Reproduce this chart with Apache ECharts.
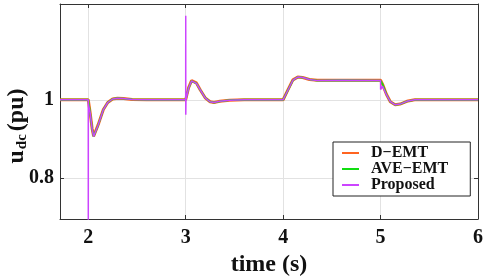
<!DOCTYPE html>
<html>
<head>
<meta charset="utf-8">
<script src="https://cdn.jsdelivr.net/npm/echarts@6/dist/echarts.min.js"></script>
<style>
  html, body { margin: 0; padding: 0; background: #fff; }
  #chart { width: 484px; height: 278px; }
</style>
</head>
<body>
<div id="chart"></div>
<script>
// time (s) and u_dc (pu)
var timeProposed = [1.71, 2.0, 2.0004, 2.0008, 2.02, 2.04, 2.055, 2.07, 2.1, 2.155, 2.2, 2.25, 2.3, 2.36, 2.45, 2.6, 3.0, 3.0004, 3.0008, 3.003, 3.03, 3.06, 3.08, 3.11, 3.15, 3.2, 3.25, 3.29, 3.35, 3.45, 3.6, 4.0, 4.05, 4.1, 4.15, 4.2, 4.27, 4.35, 4.6, 5.0, 5.0004, 5.02, 5.06, 5.1, 5.15, 5.2, 5.27, 5.35, 5.5, 6.0];
var udcProposed = [1.0, 1.0, 0.6, 0.99, 0.965, 0.925, 0.906, 0.909, 0.934, 0.975, 0.993, 1.002, 1.004, 1.003, 1.001, 1.0, 1.0, 1.215, 0.962, 1.0, 1.03, 1.048, 1.05, 1.042, 1.025, 1.005, 0.995, 0.993, 0.996, 0.999, 1.0, 1.0, 1.025, 1.05, 1.058, 1.057, 1.052, 1.049, 1.05, 1.049, 1.026, 1.035, 1.013, 0.995, 0.987, 0.989, 0.996, 1.0, 1.0, 1.0];

var timeEmt = [1.71, 2.0, 2.02, 2.04, 2.055, 2.07, 2.1, 2.155, 2.2, 2.25, 2.3, 2.36, 2.45, 2.6, 3.0, 3.03, 3.06, 3.08, 3.11, 3.15, 3.2, 3.25, 3.29, 3.35, 3.45, 3.6, 4.0, 4.05, 4.1, 4.15, 4.2, 4.27, 4.35, 4.6, 5.0, 5.02, 5.06, 5.1, 5.15, 5.2, 5.27, 5.35, 5.5, 6.0];
var udcAveEmt = [1.0, 1.0, 0.965, 0.925, 0.906, 0.909, 0.934, 0.975, 0.993, 1.002, 1.004, 1.003, 1.001, 1.0, 1.0, 1.03, 1.048, 1.05, 1.042, 1.025, 1.005, 0.995, 0.993, 0.996, 0.999, 1.0, 1.0, 1.025, 1.05, 1.058, 1.057, 1.052, 1.049, 1.05, 1.049, 1.04, 1.014, 0.995, 0.987, 0.989, 0.996, 1.0, 1.0, 1.0];
var udcDEmt = [1.0, 1.0, 0.966, 0.926, 0.907, 0.91, 0.935, 0.975, 0.993, 1.002, 1.004, 1.003, 1.001, 1.0, 1.0, 1.031, 1.049, 1.051, 1.043, 1.025, 1.005, 0.995, 0.993, 0.996, 0.999, 1.0, 1.0, 1.026, 1.051, 1.058, 1.057, 1.052, 1.05, 1.05, 1.05, 1.04, 1.014, 0.995, 0.987, 0.989, 0.996, 1.0, 1.0, 1.0];

var xTicks = [2, 3, 4, 5, 6];
var yTicks = [0.8, 1];

function pairs(xs, ys) {
  return xs.map(function (x, i) { return [x, ys[i]]; });
}

var chart = echarts.init(document.getElementById('chart'));

var fontFam = '"Liberation Serif", "Times New Roman", serif';
var axisColor = '#333';

var option = {
  animation: false,
  grid: { left: 60, right: 6, top: 4, bottom: 59, outerBoundsMode: 'none', containLabel: false },
  // y axis title with subscript, placed by hand like the original
  graphic: [{
    type: 'text',
    x: 17,
    y: 126,
    rotation: Math.PI / 2,
    style: {
      text: '{u|u}{sub|dc}{u|(pu)}',
      align: 'center',
      verticalAlign: 'middle',
      rich: {
        u: { fontFamily: fontFam, fontWeight: 'bold', fontSize: 24, fill: '#111' },
        sub: { fontFamily: fontFam, fontWeight: 'bold', fontSize: 15, fill: '#111', verticalAlign: 'bottom', padding: [10, 3, 0, 1] }
      }
    }
  }],
  legend: {
    orient: 'vertical',
    left: 333,
    top: 142,
    padding: [3, 22, 3, 9],
    itemGap: 0,
    itemWidth: 17,
    itemHeight: 2,
    icon: 'rect',
    backgroundColor: '#fff',
    borderColor: '#222',
    borderWidth: 1,
    borderRadius: 0,
    textStyle: { fontFamily: fontFam, fontWeight: 'bold', fontSize: 16, color: '#111', padding: [0, 0, 0, 7] },
    data: ['D\u2212EMT', 'AVE\u2212EMT', 'Proposed']
  },
  xAxis: [{
    type: 'value',
    min: 1.71,
    max: 6,
    name: 'time (s)',
    nameLocation: 'middle',
    nameGap: 23,
    nameTextStyle: { fontFamily: fontFam, fontWeight: 'bold', fontSize: 24, color: '#111' },
    axisLine: { show: true, lineStyle: { color: axisColor, width: 1 } },
    axisTick: { show: true, inside: true, length: 4, customValues: xTicks, lineStyle: { color: axisColor } },
    axisLabel: { customValues: xTicks, margin: 9, fontFamily: fontFam, fontWeight: 'bold', fontSize: 20, color: '#111' },
    splitLine: { show: true, lineStyle: { color: '#e2e2e2', width: 1 } }
  }, {
    type: 'value',
    position: 'top',
    min: 1.71,
    max: 6,
    axisLine: { show: true, lineStyle: { color: axisColor, width: 1 } },
    axisTick: { show: true, inside: true, length: 4, customValues: xTicks, lineStyle: { color: axisColor } },
    axisLabel: { show: false },
    splitLine: { show: false }
  }],
  yAxis: [{
    type: 'value',
    min: 0.695,
    max: 1.245,
    axisLine: { show: true, lineStyle: { color: axisColor, width: 1 } },
    axisTick: { show: true, inside: true, length: 4, customValues: yTicks, lineStyle: { color: axisColor } },
    axisLabel: { customValues: yTicks, margin: 6, fontFamily: fontFam, fontWeight: 'bold', fontSize: 20, color: '#111' },
    splitLine: { show: true, lineStyle: { color: '#e2e2e2', width: 1 } }
  }, {
    type: 'value',
    position: 'right',
    min: 0.695,
    max: 1.245,
    axisLine: { show: true, lineStyle: { color: axisColor, width: 1 } },
    axisTick: { show: true, inside: true, length: 4, customValues: yTicks, lineStyle: { color: axisColor } },
    axisLabel: { show: false },
    splitLine: { show: false }
  }],
  series: [
    {
      name: 'D\u2212EMT',
      type: 'line',
      showSymbol: false,
      clip: true,
      color: '#ff6420',
      lineStyle: { width: 3, color: '#ff6420' },
      data: pairs(timeEmt, udcDEmt)
    },
    {
      name: 'AVE\u2212EMT',
      type: 'line',
      showSymbol: false,
      clip: true,
      color: '#11dd11',
      lineStyle: { width: 1.8, color: '#11dd11' },
      data: pairs(timeEmt, udcAveEmt)
    },
    {
      name: 'Proposed',
      type: 'line',
      showSymbol: false,
      clip: true,
      color: '#cc44ff',
      lineStyle: { width: 1.5, color: '#cc44ff' },
      data: pairs(timeProposed, udcProposed)
    }
  ]
};

chart.setOption(option);
</script>
</body>
</html>
